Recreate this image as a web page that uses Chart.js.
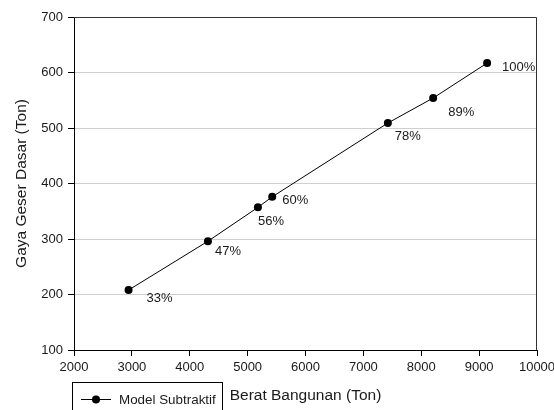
<!DOCTYPE html>
<html>
<head>
<meta charset="utf-8">
<script src="https://cdn.jsdelivr.net/npm/chart.js@4/dist/chart.umd.min.js"></script>
<style>
  html, body { margin: 0; padding: 0; background: #fff; }
  #wrap { width: 554px; height: 410px; }
</style>
</head>
<body>
<div id="wrap"><canvas id="chart" width="554" height="410"></canvas></div>
<script>
// ------------------------------------------------------------------
// Data
// ------------------------------------------------------------------
const beratBangunan = [2943, 4314, 5178, 5425, 7423, 8206, 9138];
const gayaGeser     = [208, 296, 357, 376, 509, 554, 617];
const persenLabels  = ["33%", "47%", "56%", "60%", "78%", "89%", "100%"];
const seriesName    = "Model Subtraktif";

// where each % label sits relative to its point (px)
const labelOffsets = [[18, 8], [7, 10], [0, 14], [10, 4], [7, 13], [15, 14], [15, 4]];

const FONT = "'Liberation Sans', Arial, sans-serif";

// ------------------------------------------------------------------
// Plugins: frame, % labels, boxed legend
// ------------------------------------------------------------------
const framePlugin = {
  id: "frame",
  afterDraw(chart) {
    const { ctx, chartArea: a } = chart;
    ctx.save();
    ctx.strokeStyle = "#333";
    ctx.lineWidth = 1;
    ctx.beginPath();
    ctx.moveTo(a.left, a.top + 0.5);
    ctx.lineTo(a.right - 0.5, a.top + 0.5);
    ctx.lineTo(a.right - 0.5, a.bottom);
    ctx.stroke();
    ctx.restore();
  },
};

const pctLabelPlugin = {
  id: "pctLabels",
  afterDatasetsDraw(chart) {
    const { ctx } = chart;
    const meta = chart.getDatasetMeta(0);
    ctx.save();
    ctx.font = `13px ${FONT}`;
    ctx.fillStyle = "#1a1a1a";
    ctx.textAlign = "left";
    ctx.textBaseline = "middle";
    meta.data.forEach((pt, i) => {
      const [dx, dy] = labelOffsets[i];
      ctx.fillText(persenLabels[i], pt.x + dx, pt.y + dy);
    });
    ctx.restore();
  },
};

const boxLegendPlugin = {
  id: "boxLegend",
  afterDraw(chart) {
    const { ctx } = chart;
    ctx.save();
    ctx.strokeStyle = "#000";
    ctx.lineWidth = 1;
    ctx.strokeRect(72.5, 382.5, 150, 40);
    ctx.beginPath();
    ctx.moveTo(81, 399.5);
    ctx.lineTo(111, 399.5);
    ctx.stroke();
    ctx.beginPath();
    ctx.arc(96, 399.5, 4, 0, Math.PI * 2);
    ctx.fillStyle = "#000";
    ctx.fill();
    ctx.font = `13.4px ${FONT}`;
    ctx.fillStyle = "#1a1a1a";
    ctx.textBaseline = "middle";
    ctx.fillText(chart.data.datasets[0].label, 119, 400);
    ctx.restore();
  },
};

// ------------------------------------------------------------------
// Chart
// ------------------------------------------------------------------
new Chart(document.getElementById("chart"), {
  type: "scatter",
  data: {
    datasets: [{
      label: seriesName,
      data: beratBangunan.map((x, i) => ({ x, y: gayaGeser[i] })),
      showLine: true,
      borderColor: "#000",
      borderWidth: 1,
      pointRadius: 4,
      pointHoverRadius: 4,
      pointBackgroundColor: "#000",
      pointBorderColor: "#000",
      pointBorderWidth: 0,
    }],
  },
  options: {
    responsive: false,
    animation: false,
    events: [],
    layout: { padding: { top: 17, right: 17, left: 0, bottom: 0 } },
    plugins: {
      legend: { display: false },
      tooltip: { enabled: false },
    },
    scales: {
      x: {
        type: "linear",
        min: 2000,
        max: 10000,
        afterFit: (s) => { s.height = 60; s.paddingLeft = 0; s.paddingRight = 0; },
        ticks: {
          stepSize: 1000,
          padding: 4,
          color: "#1a1a1a",
          font: { family: FONT, size: 13 },
          maxRotation: 0,
          callback: (v) => String(v),
        },
        grid: { drawOnChartArea: false, tickLength: 6, tickColor: "#000" },
        border: { color: "#000", width: 1 },
        title: {
          display: true,
          text: "Berat Bangunan (Ton)",
          color: "#1a1a1a",
          font: { family: FONT, size: 15.5 },
          padding: { top: 0, bottom: 5 },
        },
      },
      y: {
        type: "linear",
        min: 100,
        max: 700,
        afterFit: (s) => { s.width = 74; s.paddingTop = 0; s.paddingBottom = 0; },
        ticks: {
          stepSize: 100,
          padding: 5,
          color: "#1a1a1a",
          font: { family: FONT, size: 13 },
          callback: (v) => String(v),
        },
        grid: { color: "#cfcfcf", lineWidth: 1, tickLength: 6, tickColor: "#000" },
        border: { color: "#000", width: 1 },
        title: {
          display: true,
          text: "Gaya Geser Dasar (Ton)",
          color: "#1a1a1a",
          font: { family: FONT, size: 15.5 },
          padding: { top: 12, bottom: 0 },
        },
      },
    },
  },
  plugins: [framePlugin, pctLabelPlugin, boxLegendPlugin],
});
</script>
</body>
</html>
